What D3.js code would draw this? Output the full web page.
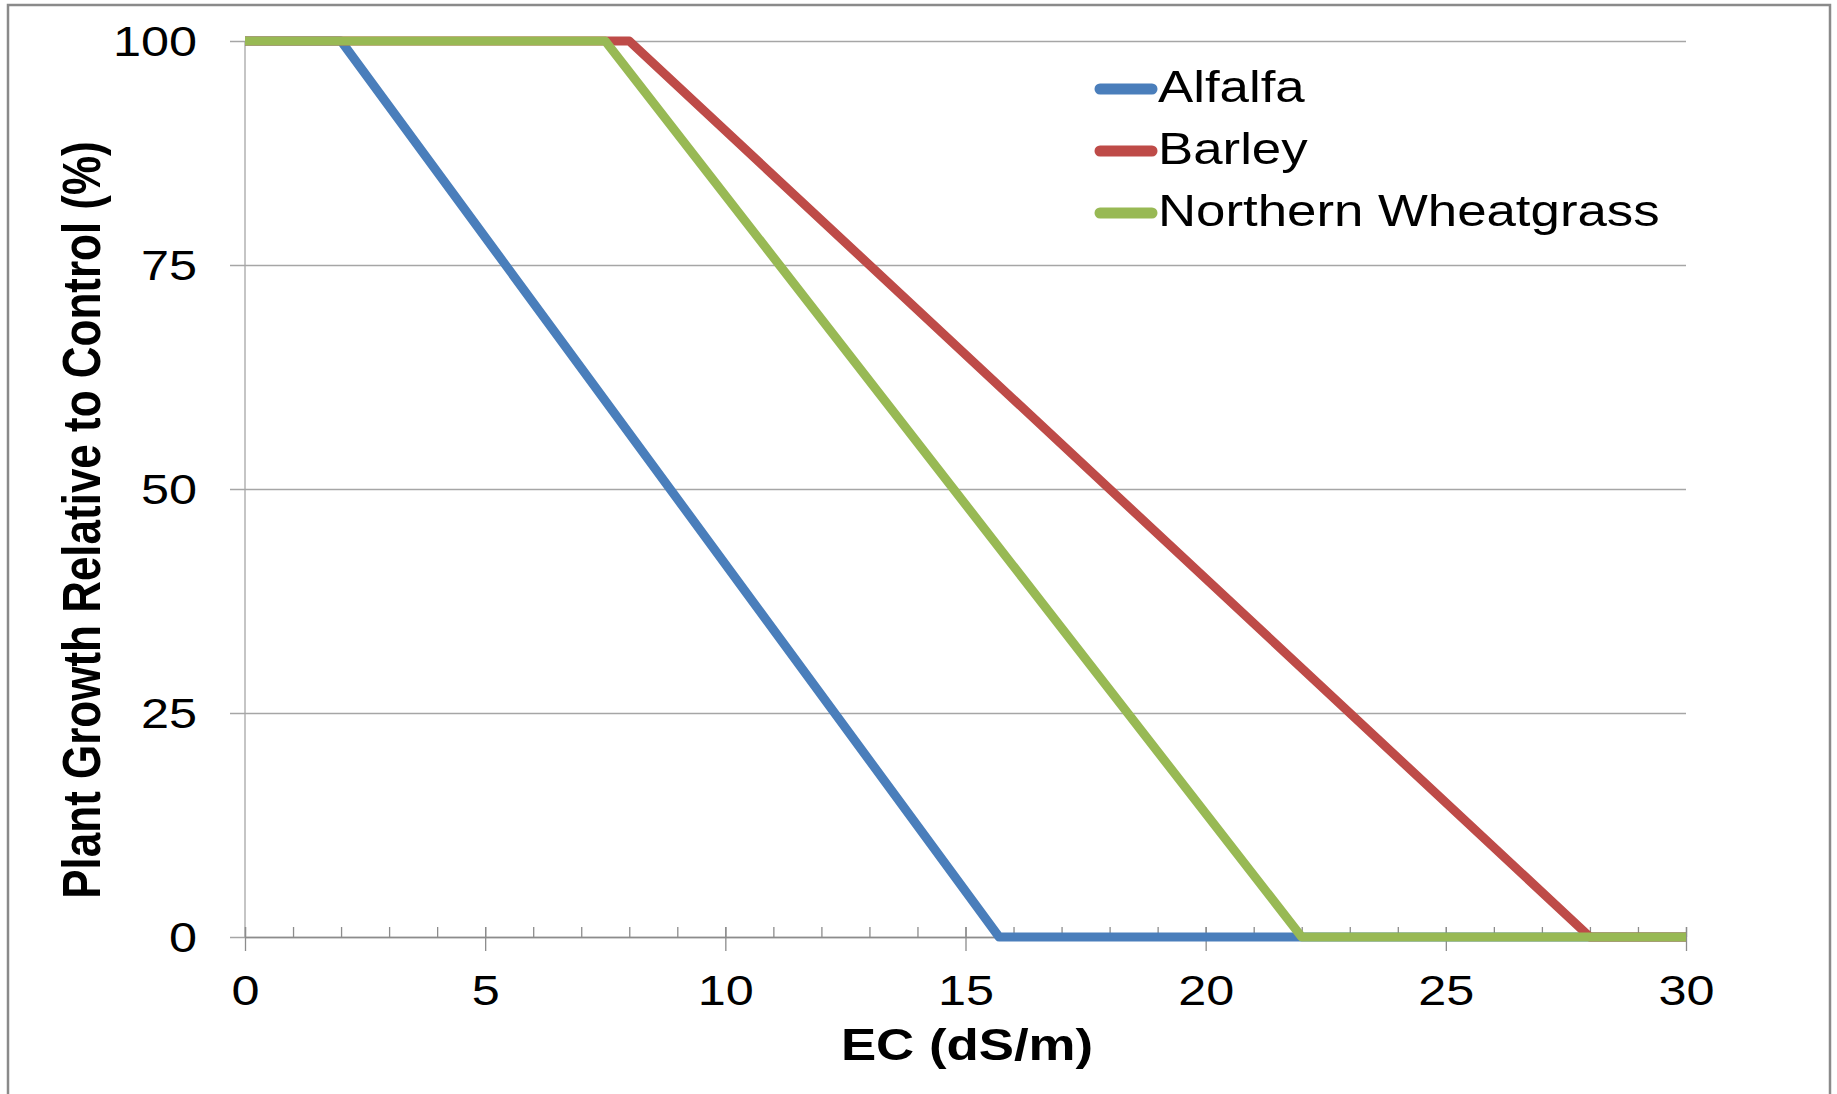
<!DOCTYPE html>
<html>
<head>
<meta charset="utf-8">
<script src="https://cdn.jsdelivr.net/npm/d3@7"></script>
<style>
  body { margin: 0; background: #fff; }
  svg { display: block; font-family: "Liberation Sans", Arial, sans-serif; }
</style>
</head>
<body>
<svg id="chart" width="1837" height="1094"></svg>
<script>
var seriesNames = ['Alfalfa', 'Barley', 'Northern Wheatgrass']
  , seriesColors = ['#4a7ebb', '#be4b48', '#98b954']
  , alfalfaEC = [0, 2, 15.7, 30]
  , alfalfaGrowth = [100, 100, 0, 0]
  , barleyEC = [0, 8, 28, 30]
  , barleyGrowth = [100, 100, 0, 0]
  , wheatgrassEC = [0, 7.5, 22, 30]
  , wheatgrassGrowth = [100, 100, 0, 0]
  , xTicks = [0, 5, 10, 15, 20, 25, 30]
  , xMinorTicks = d3.range(0, 31, 1)
  , yTicks = [0, 25, 50, 75, 100]

var svg = d3.select('svg#chart')
  , plotL = 245, plotR = 1686, plotT = 41, plotB = 937
  , sx = 1.2   // the picture is stretched sideways, text too

var x = d3.scaleLinear().domain([0, 30]).range([plotL, plotR])
  , y = d3.scaleLinear().domain([0, 100]).range([plotB, plotT])

// outer frame (bottom edge runs off the picture)
svg.append('rect')
  .attr('x', 8).attr('y', 5).attr('width', 1822).attr('height', 1200)
  .attr('fill', 'none').attr('stroke', '#8a8a8a').attr('stroke-width', 2.5)

// gridlines + y ticks
var yAxis = svg.append('g').attr('transform', 'translate(' + plotL + ',0)')
  .call(d3.axisLeft(y).tickValues(yTicks).tickSizeInner(-(plotR - plotL)).tickSizeOuter(0).tickPadding(0))
yAxis.select('.domain').remove()
yAxis.selectAll('.tick line').attr('x1', -15).attr('stroke', '#a6a6a6').attr('stroke-width', 1.3)
yAxis.selectAll('.tick text')
  .attr('x', null).attr('dy', null).attr('text-anchor', 'end')
  .attr('transform', 'translate(-48,14) scale(' + sx + ',1)')
  .attr('font-size', 42).attr('font-family', null).attr('fill', '#000')

// y axis line
svg.append('line')
  .attr('x1', plotL).attr('x2', plotL).attr('y1', y(100)).attr('y2', y(0))
  .attr('stroke', '#a6a6a6').attr('stroke-width', 1.3)

// x minor ticks (inside)
var xMinor = svg.append('g').attr('transform', 'translate(0,' + plotB + ')')
  .call(d3.axisBottom(x).tickValues(xMinorTicks).tickSize(-10).tickFormat(''))
xMinor.select('.domain').remove()
xMinor.selectAll('.tick line').attr('stroke', '#8c8c8c').attr('stroke-width', 1.3)

// x major ticks (cross) + labels
var xAxis = svg.append('g').attr('transform', 'translate(0,' + plotB + ')')
  .call(d3.axisBottom(x).tickValues(xTicks).tickSizeInner(14).tickSizeOuter(0))
xAxis.select('.domain').attr('stroke', '#8c8c8c').attr('stroke-width', 1.3)
xAxis.selectAll('.tick line').attr('y1', -10).attr('stroke', '#8c8c8c').attr('stroke-width', 1.3)
xAxis.selectAll('.tick text')
  .attr('y', null).attr('dy', null)
  .attr('transform', 'translate(0,68) scale(' + sx + ',1)')
  .attr('font-size', 42).attr('font-family', null).attr('fill', '#000')

// series lines
var lineData = [
  d3.zip(alfalfaEC, alfalfaGrowth),
  d3.zip(barleyEC, barleyGrowth),
  d3.zip(wheatgrassEC, wheatgrassGrowth)
]
var line = d3.line().x(function(d) { return x(d[0]) }).y(function(d) { return y(d[1]) })

svg.append('g').selectAll('path.series').data(lineData)
  .enter().append('path').classed('series', true)
  .attr('d', line)
  .attr('fill', 'none')
  .attr('stroke', function(d, i) { return seriesColors[i] })
  .attr('stroke-width', 9)
  .attr('stroke-linejoin', 'round')

// axis titles
svg.append('text')
  .attr('transform', 'translate(967,1060) scale(' + sx + ',1)')
  .attr('text-anchor', 'middle').attr('font-size', 44).attr('font-weight', 'bold')
  .text('EC (dS/m)')

svg.append('text')
  .attr('transform', 'translate(100,520) scale(' + sx + ',1) rotate(-90)')
  .attr('text-anchor', 'middle').attr('font-size', 44).attr('font-weight', 'bold')
  .text('Plant Growth Relative to Control (%)')

// legend
var legend = svg.append('g').selectAll('g.legend').data(seriesNames)
  .enter().append('g').classed('legend', true)
  .attr('transform', function(d, i) { return 'translate(1095,' + (89 + i * 62) + ')' })

legend.append('line')
  .attr('x1', 5).attr('x2', 57)
  .attr('stroke', function(d, i) { return seriesColors[i] })
  .attr('stroke-width', 11).attr('stroke-linecap', 'round')

legend.append('text')
  .attr('transform', 'translate(63,13) scale(' + sx + ',1)')
  .attr('font-size', 44)
  .text(function(d) { return d })
</script>
</body>
</html>
